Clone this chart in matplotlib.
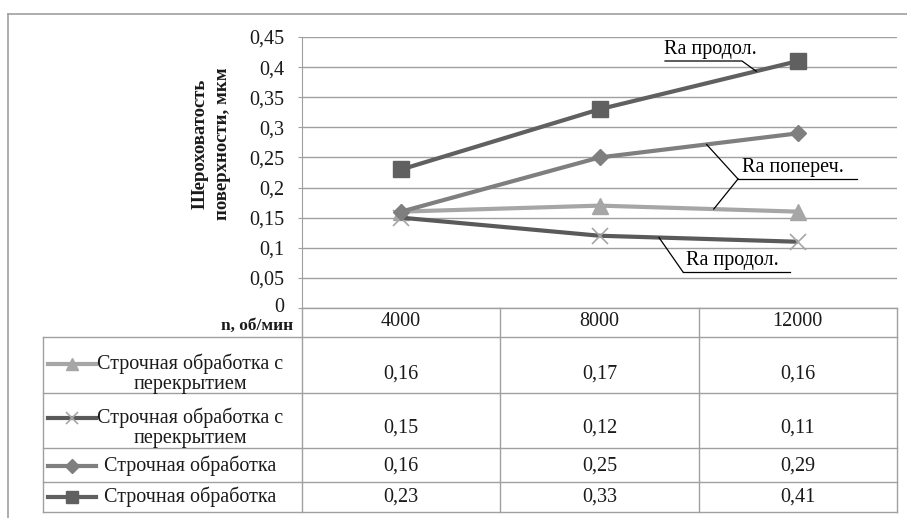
import matplotlib.pyplot as plt
from matplotlib.lines import Line2D
from matplotlib.transforms import blended_transform_factory, ScaledTranslation
import numpy as np

plt.rcParams['font.family'] = 'serif'
plt.rcParams['font.serif'] = ['Liberation Serif', 'DejaVu Serif']

# data
speeds = ['4000', '8000', '12000']
row_names = ['Строчная обработка с\nперекрытием',
             'Строчная обработка с\nперекрытием',
             'Строчная обработка',
             'Строчная обработка']
overlap_trans = [0.16, 0.17, 0.16]   # triangle
overlap_long = [0.15, 0.12, 0.11]    # cross
plain_trans = [0.16, 0.25, 0.29]     # diamond
plain_long = [0.23, 0.33, 0.41]      # square
rows = [overlap_trans, overlap_long, plain_trans, plain_long]
y_label = 'Шероховатость\nповерхности, мкм'
x_label = 'n, об/мин'
lbl_long = 'Ra продол.'
lbl_trans = 'Ra попереч.'

styles = [
    dict(color='#a6a6a6', marker='^', ms=11, mfc='#a6a6a6', mec='#a6a6a6'),
    dict(color='#5a5a5a', marker='x', ms=11, mfc='#a6a6a6', mec='#a6a6a6', mew=1.2),
    dict(color='#7f7f7f', marker='D', ms=8, mfc='#7f7f7f', mec='#7f7f7f'),
    dict(color='#606060', marker='s', ms=11, mfc='#606060', mec='#606060'),
]

W, H = 907, 518
GRAY = '#a0a0a0'
FS = 14.5
TXT = '#1a1a1a'


def fx(px):
    return px / W


def fy(py):
    return 1 - py / H


fig = plt.figure(figsize=(W / 100, H / 100), dpi=100)
ax = fig.add_axes([fx(302), fy(308), fx(897) - fx(302), fy(37) - fy(308)])

x = np.arange(len(speeds))
for vals, st in zip(rows, styles):
    ax.plot(x, vals, lw=3, solid_capstyle='butt', **st)

ax.set_xlim(-0.5, 2.5)
ax.set_ylim(0, 0.45)
ax.set_yticks(np.arange(0, 0.451, 0.05))
ax.yaxis.set_major_formatter(lambda v, p: ('%g' % round(v, 2)).replace('.', ','))
ax.set_xticks([])
ax.grid(axis='y', color=GRAY, lw=1)
ax.set_axisbelow(True)
for s in ['top', 'right', 'bottom']:
    ax.spines[s].set_visible(False)
ax.spines['left'].set_color(GRAY)
ax.tick_params(axis='y', colors=GRAY, labelcolor=TXT, labelsize=FS, length=3, pad=10)
# lift the "0" label a little so it clears the row title below
zero_lbl = ax.yaxis.get_major_ticks()[0].label1
zero_lbl.set_transform(zero_lbl.get_transform() + ScaledTranslation(0, 3 / 100, fig.dpi_scale_trans))

fig.text(fx(211), fy(144), y_label, rotation=90, ha='center', va='center',
         fontsize=13.5, fontweight='bold', linespacing=1.4, color=TXT)

# outer border
fig.add_artist(Line2D([fx(8), fx(907)], [fy(14), fy(14)], color=GRAY, lw=1.2))
fig.add_artist(Line2D([fx(8), fx(8)], [fy(14), fy(518)], color=GRAY, lw=1.2))

# data table
tr = blended_transform_factory(ax.transData, fig.transFigure)
row_lines = [337, 393, 448, 482, 512]
row_text_y = [374, 428, 466, 497]
edges = np.arange(len(speeds) + 1) - 0.5

for e in edges:
    fig.add_artist(Line2D([e, e], [fy(308), fy(512)], color=GRAY, lw=1, transform=tr))
fig.add_artist(Line2D([-0.5, 2.5], [fy(308), fy(308)], color=GRAY, lw=1, transform=tr))
x_left = ax.transData.inverted().transform((fig.transFigure.transform((fx(43), 0))[0], 0))[0]
for yl in row_lines:
    fig.add_artist(Line2D([x_left, 2.5], [fy(yl), fy(yl)], color=GRAY, lw=1, transform=tr))
fig.add_artist(Line2D([x_left, x_left], [fy(337), fy(512)], color=GRAY, lw=1, transform=tr))

fig.text(fx(293), fy(326), x_label, ha='right', va='center', fontsize=12.5,
         fontweight='bold', color=TXT)
for i, s in enumerate(speeds):
    ax.text(i, fy(322), s, transform=tr, ha='center', va='center', fontsize=FS, color=TXT)

for name, vals, st, yt in zip(row_names, rows, styles, row_text_y):
    fig.text(fx(190), fy(yt), name, ha='center', va='center', fontsize=FS,
             linespacing=1.1, color=TXT)
    key = Line2D([fx(48), fx(72), fx(96)], [fy(yt - 10 if '\n' in name else yt)] * 3,
                 lw=3, markevery=[1], transform=fig.transFigure, **st)
    key.set_markersize(st['ms'] * 0.85)
    fig.add_artist(key)
    for i, v in enumerate(vals):
        ax.text(i, fy(yt), ('%g' % v).replace('.', ','), transform=tr,
                ha='center', va='center', fontsize=FS, color=TXT)


# labels with leader lines
def target(vals, xd):
    disp = ax.transData.transform((xd, np.interp(xd, x, vals)))
    return fig.transFigure.inverted().transform(disp)


def leader(points_px, end_vals, end_x):
    xs = [fx(p[0]) for p in points_px]
    ys = [fy(p[1]) for p in points_px]
    tx, ty = target(end_vals, end_x)
    fig.add_artist(Line2D(xs + [tx], ys + [ty], color='black', lw=0.9))


fig.text(fx(664), fy(59), lbl_long, ha='left', va='bottom', fontsize=FS)
leader([(665, 61), (742, 61)], plain_long, 1.79)

fig.text(fx(742), fy(177), lbl_trans, ha='left', va='bottom', fontsize=FS)
fig.add_artist(Line2D([fx(738), fx(857)], [fy(179), fy(179)], color='black', lw=0.9))
leader([(738, 179)], plain_trans, 1.54)
leader([(738, 179)], overlap_trans, 1.576)

fig.text(fx(686), fy(270), lbl_long, ha='left', va='bottom', fontsize=FS)
fig.add_artist(Line2D([fx(683), fx(790)], [fy(272), fy(272)], color='black', lw=0.9))
leader([(683, 272)], overlap_long, 1.30)

fig.savefig('out.png', dpi=100, facecolor='white')
